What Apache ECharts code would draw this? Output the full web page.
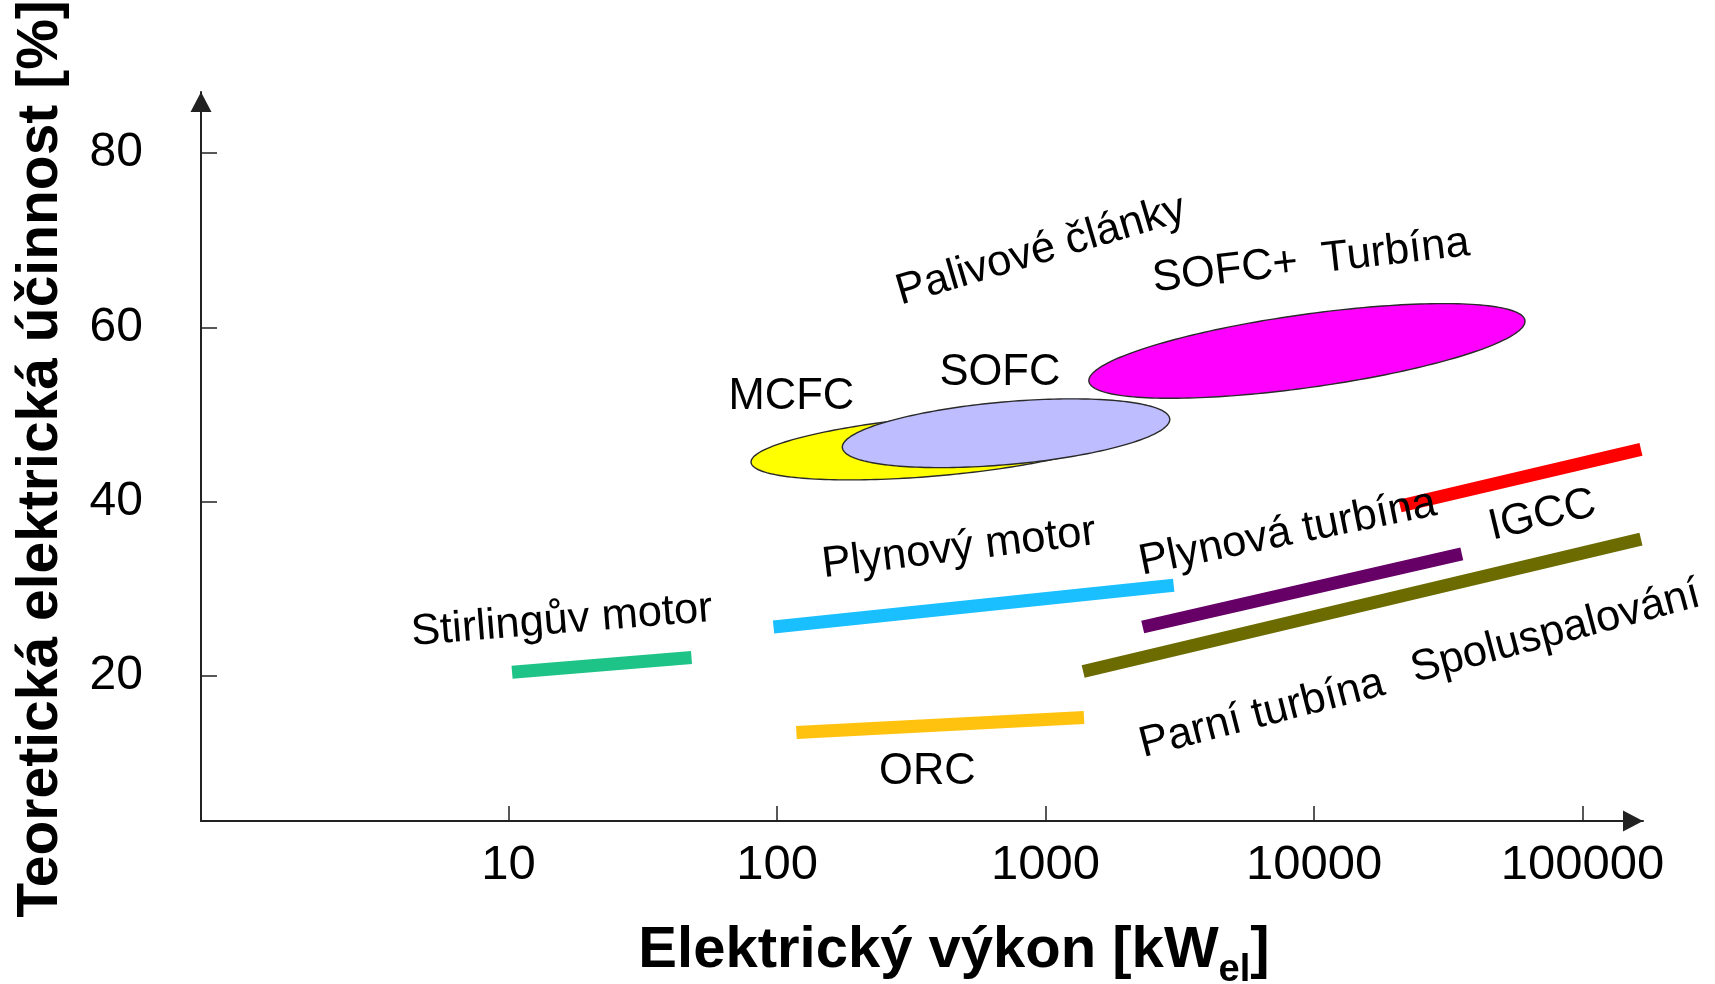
<!DOCTYPE html>
<html><head><meta charset="utf-8">
<script src="https://cdn.jsdelivr.net/npm/echarts@6/dist/echarts.min.js"></script>
<style>html,body{margin:0;padding:0;background:#fff}#c{width:1715px;height:984px}</style>
</head><body><div id="c"></div>
<script>
// ---- axis ticks & titles ----
const xTicks = [10, 100, 1000, 10000, 100000];
const yTicks = [20, 40, 60, 80];
const xTitleMain = 'Elektrický výkon [kW';
const xTitleSub = 'el';
const xTitleEnd = ']';
const yTitle = 'Teoretická elektrická účinnost [%]';

// ---- line bands: [power kW, efficiency %] ----
const stirling       = [[10.3, 20.4], [48, 22.1]];
const plynovyMotor   = [[97, 25.6], [3000, 30.4]];
const orc            = [[118, 13.5], [1390, 15.2]];
const plynovaTurbina = [[2300, 25.6], [35500, 34.0]];
const parniTurbina   = [[1380, 20.5], [165000, 35.7]];
const igcc           = [[20900, 39.5], [165000, 46.0]];

// ---- ellipse regions: [x1 kW, y1 %, x2 kW, y2 % (major axis ends), minor half-width %] ----
const mcfc        = [80, 44.5, 1900, 48.2, 3.4];
const sofc        = [175, 46.2, 2900, 49.5, 3.6];
const sofcTurbina = [1450, 53.8, 61000, 60.8, 4.2];

// ---- annotation labels ----
const labelNames = ['Stirlingův motor', 'Plynový motor', 'Palivové články', 'SOFC+  Turbína', 'SOFC', 'MCFC', 'ORC', 'Plynová turbína', 'IGCC', 'Spoluspalování', 'Parní turbína'];
const labelX     = [15.8, 476, 961, 9740, 676, 113, 363, 7970, 70900, 79300, 6400];
const labelY     = [26.3, 34.6, 68.8, 67.6, 54.8, 52.0, 9.0, 36.4, 38.4, 25.0, 15.6];
const labelAngle = [4.6, 7, 16.5, 6.5, 0, 0, 0, 11.5, 13.4, 15, 14.5];

// ---- styles ----
const lineColors = ['#1ec487', '#1abfff', '#ffc20e', '#660066', '#6b6b00', '#ff0000'];
const ellipseColors = ['#ffff00', '#bdbdff', '#ff00ff'];
const FONT = '"Liberation Sans", Arial, sans-serif';

const chart = echarts.init(document.getElementById('c'), null, {renderer: 'canvas'});

function renderEllipse(params, api) {
  const x1 = api.value(0), y1 = api.value(1), x2 = api.value(2), y2 = api.value(3), bh = api.value(4);
  const p1 = api.coord([x1, y1]);
  const p2 = api.coord([x2, y2]);
  const cx = (p1[0] + p2[0]) / 2, cy = (p1[1] + p2[1]) / 2;
  const a = Math.hypot(p2[0] - p1[0], p2[1] - p1[1]) / 2;
  const ang = Math.atan2(p2[1] - p1[1], p2[0] - p1[0]);
  const xc = Math.sqrt(x1 * x2), yc = (y1 + y2) / 2;
  const b = Math.abs(api.coord([xc, yc])[1] - api.coord([xc, yc + bh])[1]);
  const pts = [];
  const N = 200;
  for (let i = 0; i < N; i++) {
    const t = i / N * Math.PI * 2;
    const ex = a * Math.cos(t), ey = b * Math.sin(t);
    pts.push([cx + ex * Math.cos(ang) - ey * Math.sin(ang), cy + ex * Math.sin(ang) + ey * Math.cos(ang)]);
  }
  return {
    type: 'polygon',
    shape: {points: pts},
    style: {fill: ellipseColors[params.dataIndex], stroke: '#2a2a2a', lineWidth: 1.4}
  };
}

function renderLabel(params, api) {
  const i = params.dataIndex;
  const p = api.coord([api.value(0), api.value(1)]);
  return {
    type: 'text',
    x: p[0], y: p[1],
    rotation: labelAngle[i] * Math.PI / 180,
    style: {
      text: labelNames[i], fill: '#000',
      fontSize: 43.5, fontFamily: FONT,
      align: 'center', verticalAlign: 'middle'
    }
  };
}

function band(name, data, color) {
  return {
    name: name, type: 'line', data: data, symbol: 'none', z: 3,
    lineStyle: {color: color, width: 13, cap: 'butt'},
    clip: false, silent: true
  };
}

chart.setOption({
  animation: false,
  backgroundColor: '#fff',
  grid: {left: 201, right: 72, top: 92, bottom: 163, containLabel: false, outerBoundsMode: 'none'},
  xAxis: {
    type: 'log', logBase: 10, min: 0.715, max: 167900,
    axisLine: {show: true, lineStyle: {color: '#222', width: 2}, symbol: ['none', 'triangle'], symbolSize: [21, 20], symbolOffset: [0, -10]},
    axisTick: {show: true, inside: true, length: 15, lineStyle: {color: '#222', width: 1.5}, customValues: xTicks},
    axisLabel: {show: true, customValues: xTicks, margin: 20, color: '#000', fontSize: 49, fontFamily: FONT,
      formatter: v => String(Math.round(v))},
    splitLine: {show: false}, minorTick: {show: false}, minorSplitLine: {show: false}
  },
  yAxis: {
    type: 'value', min: 3.33, max: 87.03,
    axisLine: {show: true, lineStyle: {color: '#222', width: 2}, symbol: ['none', 'triangle'], symbolSize: [21, 20], symbolOffset: [0, -10]},
    axisTick: {show: true, inside: true, length: 16, lineStyle: {color: '#222', width: 1.5}, customValues: yTicks},
    axisLabel: {show: true, customValues: yTicks, margin: 58, color: '#000', fontSize: 48, fontFamily: FONT,
      formatter: v => String(Math.round(v))},
    splitLine: {show: false}
  },
  graphic: [
    {
      type: 'text', x: 954, y: 951, z: 10,
      style: {
        text: '{a|' + xTitleMain + '}{s|' + xTitleSub + '}{a|' + xTitleEnd + '}',
        align: 'center', verticalAlign: 'middle',
        rich: {
          a: {fontSize: 58, fontWeight: 'bold', fontFamily: FONT, fill: '#000', lineHeight: 78, verticalAlign: 'middle'},
          s: {fontSize: 38, fontWeight: 'bold', fontFamily: FONT, fill: '#000', lineHeight: 78, verticalAlign: 'bottom'}
        }
      }
    },
    {
      type: 'text', x: 41, y: 459, rotation: Math.PI / 2, z: 10,
      style: {text: yTitle, fontSize: 57, fontWeight: 'bold', fontFamily: FONT, fill: '#000', align: 'center', verticalAlign: 'middle'}
    }
  ],
  series: [
    band('Stirlingův motor', stirling, lineColors[0]),
    band('Plynový motor', plynovyMotor, lineColors[1]),
    band('ORC', orc, lineColors[2]),
    band('Plynová turbína', plynovaTurbina, lineColors[3]),
    band('Parní turbína / Spoluspalování', parniTurbina, lineColors[4]),
    band('IGCC', igcc, lineColors[5]),
    {
      name: 'Palivové články', type: 'custom', z: 4, silent: true,
      renderItem: renderEllipse,
      encode: {x: 0, y: 1},
      data: [mcfc, sofc, sofcTurbina]
    },
    {
      name: 'labels', type: 'custom', z: 6, silent: true,
      renderItem: renderLabel,
      encode: {x: 0, y: 1},
      data: labelX.map((x, i) => [x, labelY[i]])
    }
  ]
});
</script>
</body></html>
